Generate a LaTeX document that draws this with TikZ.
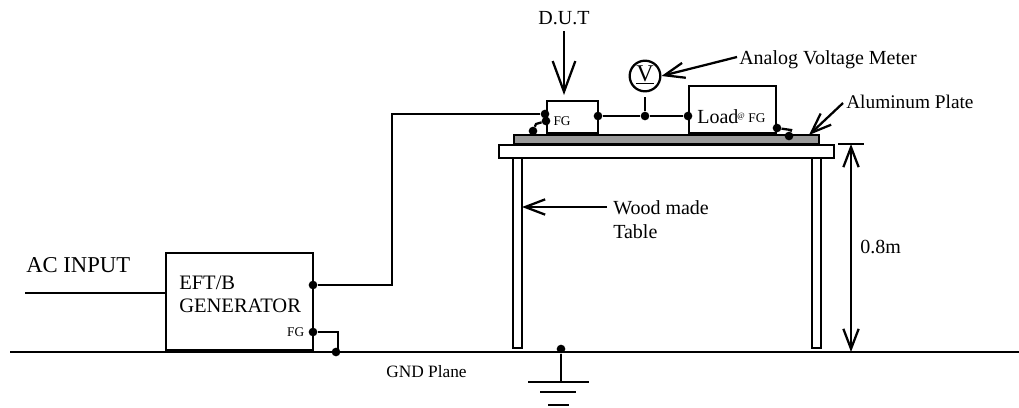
\documentclass[tikz,border=0pt]{standalone}
\usepackage{fontspec}
\setmainfont{Liberation Serif}
\usetikzlibrary{arrows.meta,positioning}
\begin{document}
\begin{tikzpicture}[
        x=0.75pt,
        y=-0.75pt,
        wire/.style={line width=1.7pt},
        box/.style={
          draw,
          line width=1.7pt,
          inner sep=0pt,
          outer sep=0pt
        },
        arrow/.style={
          -{Straight Barb[length=15pt,width=11.5pt,line width=1.7pt]},
          line width=1.7pt
        },
        bigarrow/.style={
          -{Straight Barb[length=23pt,width=17pt,line width=1.7pt]},
          line width=1.7pt
        },
        dot/.style={
          circle,
          fill=black,
          inner sep=0pt,
          minimum size=6.5pt
        },
        label/.style={
          font=\fontsize{15}{18}\selectfont,
          inner sep=0pt,
          align=left
        },
        small/.style={
          font=\fontsize{10}{12}\selectfont,
          inner sep=0pt
        }
      ]
      \useasboundingbox (0,0) rectangle (1019,407);

      % table
      \draw[line width=1.7pt, fill=white] (513,158) rectangle (522,348);
      \draw[line width=1.7pt, fill=white] (812,158) rectangle (821,348);
      \node[box, fill=white, minimum width=251.25pt, minimum height=9.75pt] (tabletop) at (666.5,151.5) {};
      \node[box, fill=black!40, minimum width=228.75pt, minimum height=6.75pt] (plate) at (666.5,139.5) {};

      % boxes
      \node[box, minimum width=110.25pt, minimum height=72.75pt] (gen) at (239.5,301.5) {};
      \node[box, minimum width=38.25pt, minimum height=24pt] (dut) at (572.5,117) {};
      \node[box, minimum width=65.25pt, minimum height=35.25pt] (load) at (732.5,109.5) {};
      \node[circle, draw, line width=1.7pt, inner sep=0pt, minimum size=23pt] (meter) at (645,76) {};
      \node[font=\fontsize{18}{20}\selectfont, inner sep=0pt] at (645,75) {\underline{V}};

      % ground line
      \coordinate (gndleft) at (10,352);
      \coordinate (gndright) at (1019,352);
      \draw[line width=2pt] (gndleft) -- (gndright);

      % connection points
      \node[dot] (genout) at (313,285) {};
      \node[dot] (genfg) at (313,332) {};
      \node[dot] (gengnd) at (336,352) {};
      \node[dot] (dutin) at (545,114) {};
      \node[dot] (dutfg) at (546,121) {};
      \node[dot] (dutgnd) at (533,131) {};
      \node[dot] (dutout) at (598,116) {};
      \node[dot] (tap) at (645,116) {};
      \node[dot] (loadin) at (688,116) {};
      \node[dot] (loadfg) at (777,128) {};
      \node[dot] (loadgnd) at (789,136) {};
      \node[dot] (gndtap) at (561,349) {};

      % wires
      \coordinate (riser) at (392,114);
      \coordinate (acend) at (25,293);
      \coordinate (meterfoot) at (645,97);
      \draw[wire] (acend) -- (acend -| gen.west);
      \draw[wire] (genout) -| (riser) -- (dutin);
      \draw[wire] (genfg) -- (338,332) -- (338,352) -- (gengnd);
      \draw[wire] (dutfg) -- (536,124) -- (dutgnd);
      \draw[wire] (dutout) -- (tap) -- (loadin);
      \draw[wire] (tap) -- (meterfoot);
      \draw[wire] (loadfg) -- (791,130) -- (loadgnd);

      % earth symbol
      \coordinate (earth) at (561,382);
      \draw[wire] (gndtap) -- (earth);
      \draw[wire] (528,382) -- (589,382);
      \draw[wire] (540,392) -- (576,392);
      \draw[wire] (548,405) -- (569,405);

      % pointers
      \node[label] (dutlabel) at (564,18) {D.U.T};
      \node[label, anchor=west] (meterlabel) at (739,60) {Analog Voltage Meter};
      \node[label, anchor=west, font=\fontsize{14.5}{18}\selectfont] (platelabel) at (846,102) {Aluminum Plate};
      \node[label, anchor=west] (woodlabel) at (613,208) {Wood made};
      \node[label, anchor=west] at (613,232) {Table};
      \coordinate (dutarrow) at (564,31);
      \coordinate (dutend) at (564,95);
      \coordinate (meterarrow) at (737,57);
      \coordinate (platearrow) at (843,103);
      \coordinate (plateend) at (809,135);
      \coordinate (woodarrow) at (607,207);
      \coordinate (woodend) at (522,207);
      \draw[bigarrow] (dutarrow) -- (dutend);
      \draw[arrow] (meterarrow) -- (meter.east);
      \draw[arrow] (platearrow) -- (plateend);
      \draw[arrow] (woodarrow) -- (woodend);

      % height
      \coordinate (dimtop) at (851,144);
      \coordinate (dimbottom) at (851,352);
      \draw[wire] (838,144) -- (864,144);
      \draw[arrow] (851,248) -- (dimtop);
      \draw[arrow] (851,248) -- (dimbottom);
      \node[label, anchor=west, fill=white, inner ysep=2pt] (heightlabel) at (860,247) {0.8m};

      % texts
      \node[label, anchor=west, font=\fontsize{17}{20}\selectfont] (aclabel) at (26,265) {AC INPUT};
      \node[label, anchor=west, font=\fontsize{15.4}{17.2}\selectfont] (genlabel) at (179,294) {EFT/B\\GENERATOR};
      \node[small, left=3pt of genfg] {FG};
      \node[small, right=2pt of dutfg] {FG};
      \node[label, anchor=west] (loadlabel) at (697,117) {Load};
      \node[font=\fontsize{6}{7}\selectfont, inner sep=0pt] at (741,117) {@};
      \node[small] at (757,118) {FG};
      \node[label, anchor=west, font=\fontsize{13}{16}\selectfont] (gndlabel) at (386,372) {GND Plane};

      \end{tikzpicture}
\end{document}
